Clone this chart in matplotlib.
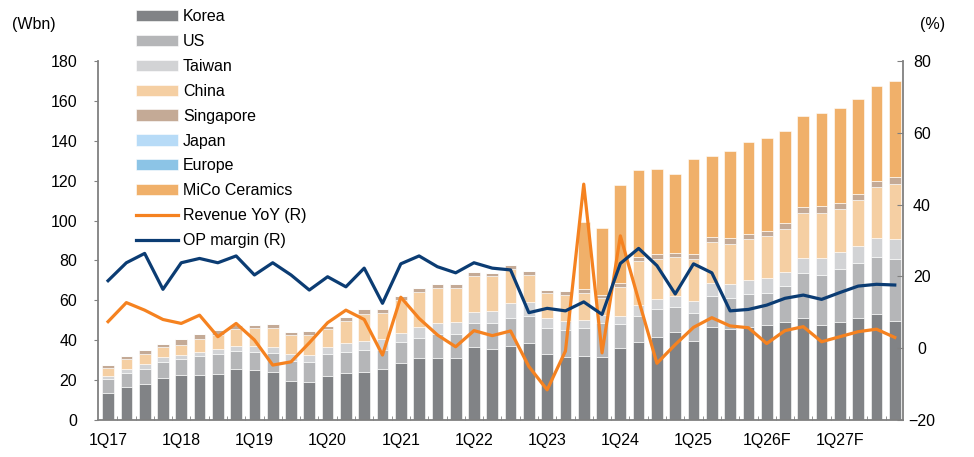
import matplotlib
matplotlib.use("Agg")
import matplotlib.pyplot as plt
import numpy as np

plt.rcParams['font.family'] = ['Liberation Sans', 'DejaVu Sans']

# quarterly data 1Q17 ~ 4Q27F (Wbn)
quarters = [f"{q}Q{y}" for y in range(17, 28) for q in range(1, 5)]
xtick_labels = ['1Q17', '1Q18', '1Q19', '1Q20', '1Q21', '1Q22', '1Q23',
                '1Q24', '1Q25', '1Q26F', '1Q27F']

korea = [13.7, 16.7, 18.0, 21.2, 22.4, 22.4, 23.1, 25.7, 25.2, 24.2, 19.7,
         19.2, 22.2, 23.7, 24.2, 25.7, 28.6, 31.2, 31.2, 31.2, 36.8, 35.6,
         37.3, 38.4, 32.9, 31.8, 32.2, 31.4, 35.9, 39.3, 41.8, 44.3, 39.8,
         46.5, 45.5, 46.5, 47.6, 49.3, 51.0, 47.6, 49.3, 51.3, 53.0, 49.8]
us = [6.7, 7.0, 7.7, 8.0, 8.3, 9.7, 9.8, 9.1, 9.1, 9.6, 10.0,
      10.0, 10.9, 10.6, 10.9, 9.4, 10.7, 10.1, 11.9, 12.1, 12.0, 12.9,
      14.0, 13.9, 13.1, 13.3, 13.8, 17.1, 12.1, 13.0, 13.9, 12.5, 14.0,
      15.7, 15.8, 16.7, 16.2, 17.9, 22.9, 25.1, 26.6, 27.3, 28.9, 30.8]
taiwan = [1.6, 2.0, 2.2, 2.4, 2.0, 2.2, 2.5, 2.5, 3.0, 2.6, 3.4,
          3.4, 3.3, 4.2, 4.7, 5.4, 4.5, 5.2, 5.4, 5.8, 5.5, 6.3,
          7.2, 6.9, 5.3, 4.7, 4.1, 4.2, 4.3, 5.4, 5.1, 5.4, 5.9,
          6.7, 6.7, 7.0, 7.3, 7.2, 7.1, 8.3, 8.5, 8.8, 9.2, 10.2]
china = [3.9, 4.7, 5.0, 4.8, 5.1, 6.5, 7.2, 8.2, 8.7, 9.9, 9.5,
         10.0, 9.1, 11.1, 13.4, 13.0, 16.4, 17.5, 17.5, 16.9, 17.9, 17.4,
         17.2, 13.5, 12.2, 12.9, 13.7, 8.3, 14.6, 22.0, 19.9, 19.4, 20.9,
         20.5, 20.3, 20.4, 21.2, 21.4, 23.0, 23.0, 21.4, 22.9, 25.9, 27.6]
singapore = [1.8, 1.7, 2.2, 1.9, 2.7, 2.3, 2.5, 2.1, 1.6, 1.7, 1.7,
             2.0, 1.6, 2.2, 2.3, 2.0, 2.1, 2.4, 2.2, 2.2, 2.0, 1.7,
             2.0, 2.2, 1.7, 2.0, 1.7, 1.7, 2.0, 2.2, 2.6, 2.3, 2.7,
             2.5, 2.8, 2.7, 2.6, 2.8, 3.0, 3.3, 3.2, 3.0, 2.9, 3.3]
japan = [0.0] * 44
europe = [0.0] * 44
mico = [0.0] * 26 + [34.0, 33.7, 48.9, 43.5, 42.4, 39.5, 47.6, 40.5, 44.0,
                     46.3, 46.4, 46.5, 45.6, 46.8, 47.3, 47.7, 47.8, 48.5]

# right axis (%)
rev_yoy = [7.4, 12.7, 10.6, 8.0, 6.9, 9.2, 3.2, 6.9, 2.3, -4.7, -3.8,
           1.5, 7.1, 10.6, 8.0, -1.9, 14.2, 8.3, 3.7, 0.4, 4.9, 3.5,
           4.8, -5.1, -11.6, -0.8, 45.7, -1.3, 31.3, 13.4, -4.2, 1.0, 5.8,
           8.5, 6.2, 5.7, 1.3, 4.9, 6.0, 1.8, 3.2, 4.6, 5.3, 3.0]
op_margin = [18.8, 23.8, 26.4, 16.4, 23.8, 25.0, 23.8, 25.7, 20.4, 23.8, 20.4,
             16.2, 19.9, 17.1, 22.3, 12.5, 23.5, 25.7, 22.7, 21.0, 23.8, 22.3,
             21.8, 9.9, 11.1, 10.4, 12.9, 9.4, 23.6, 27.8, 23.0, 15.1, 23.5,
             21.0, 10.4, 10.8, 12.0, 13.9, 14.8, 13.6, 15.5, 17.3, 17.8, 17.6]

series = [
    ('Korea', korea, '#818386'),
    ('US', us, '#b5b6b8'),
    ('Taiwan', taiwan, '#d2d3d5'),
    ('China', china, '#f5cfa3'),
    ('Singapore', singapore, '#c4aa96'),
    ('Japan', japan, '#b7dbf7'),
    ('Europe', europe, '#8cc4e6'),
    ('MiCo Ceramics', mico, '#f0b06a'),
]

fs = 11.5
grey = '#808080'

fig = plt.figure(figsize=(9.74, 4.57), dpi=100)
ax = fig.add_axes([98 / 974, 1 - 420 / 457, (903 - 98) / 974, (420 - 61) / 457])
ax2 = ax.twinx()

x = np.arange(len(quarters))
bottom = np.zeros(len(quarters))
handles = []
for name, vals, col in series:
    vals = np.array(vals)
    b = ax.bar(x, vals, 0.64, bottom=bottom, color=col, edgecolor='white',
               linewidth=0.4, label=name)
    bottom += vals
    handles.append(b)

l1, = ax2.plot(x, rev_yoy, color='#f58220', lw=2.3, label='Revenue YoY (R)')
l2, = ax2.plot(x, op_margin, color='#0b3c73', lw=2.3, label='OP margin (R)')
handles += [l1, l2]

ax.set_xlim(-0.55, 43.45)
ax.set_ylim(0, 180)
ax.set_yticks(np.arange(0, 181, 20))
ax2.set_ylim(-20, 80)
ax2.set_yticks(np.arange(-20, 81, 20))

ax.set_xticks(np.arange(0, 44, 4))
ax.set_xticklabels(xtick_labels)
ax.set_xticks(np.arange(0.5, 43, 1), minor=True)
ax.tick_params(axis='x', which='major', length=0, pad=9.5, labelsize=fs)
ax.tick_params(axis='x', which='minor', direction='in', length=3, color=grey)
ax.tick_params(axis='y', direction='out', length=3, color=grey, pad=12, labelsize=fs)
ax2.tick_params(axis='y', direction='in', length=4, color=grey, pad=13.5, labelsize=fs)
for lbl in ax2.get_yticklabels():
    lbl.set_horizontalalignment('center')

for a in (ax, ax2):
    a.spines['top'].set_visible(False)
    for s in ('left', 'right', 'bottom'):
        a.spines[s].set_color(grey)
        a.spines[s].set_linewidth(1.3)
ax.spines['right'].set_visible(False)
ax2.spines['left'].set_visible(False)
ax2.spines['bottom'].set_visible(False)

fig.legend(handles=handles, loc='upper left', bbox_to_anchor=(136 / 974, 1 - 9 / 457),
           frameon=False, fontsize=fs, handlelength=2.6, handleheight=0.7,
           handletextpad=0.35, labelspacing=0.62, borderpad=0, borderaxespad=0)

fig.text(34 / 974, 1 - 25 / 457, '(Wbn)', ha='center', va='center', fontsize=fs)
fig.text(933 / 974, 1 - 25 / 457, '(%)', ha='center', va='center', fontsize=fs)

fig.savefig('out.png', dpi=100)
